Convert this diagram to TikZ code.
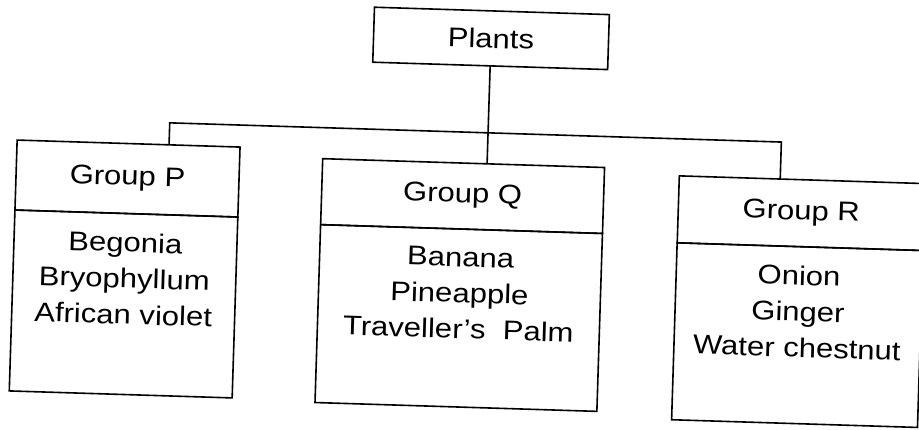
\documentclass[tikz,border=0pt]{standalone}
\usepackage{fontspec}
\setmainfont{Liberation Sans}[FakeStretch=1.15]
\usetikzlibrary{positioning,calc}

\begin{document}
\begin{tikzpicture}[x=1pt, y=-1pt, line width=1.6pt,
  every node/.style={font=\fontsize{27}{36}\selectfont, inner sep=0pt, outer sep=0pt},
  grouphead/.style={draw},
  groupbody/.style={draw},
  itemlist/.style={align=center}]
\useasboundingbox (0,0) rectangle (919,429);
\clip (0,0) rectangle (919,429);
\begin{scope}[rotate around={-1.8:(460,215)}, transform shape]
\node[grouphead, minimum width=235, minimum height=55] (plants) at (485.5,37.5) {Plants};
\foreach \g/\x/\y/\w/\hh/\bh/\items in {
  P/126.5/189/223/70/181/{Begonia\\Bryophyllum\\African violet},
  Q/462/196/282/66/178/{Banana\\Pineapple\\Traveller's\ \ Palm},
  R/801/202.5/246/67/177/{Onion\\Ginger\\Water chestnut}} {
  \node[grouphead, minimum width=\w, minimum height=\hh] (\g head) at (\x,\y) {Group \g};
  \node[groupbody, minimum width=\w, minimum height=\bh, below=0pt of \g head] (\g body) {};
  \node[itemlist, below=19pt of \g body.north] (\g list) {\items};
}
% bus line between the groups
\coordinate (busP) at (167,132);
\coordinate (busR) at (779,132);
\draw ($(Phead.north west)!(busP)!(Phead.north east)$) -- (busP) -- (busR) -- ($(Rhead.north west)!(busR)!(Rhead.north east)$);
\draw (plants.south) -- ($(Qhead.north west)!(plants.south)!(Qhead.north east)$);
\end{scope}
\end{tikzpicture}
\end{document}
